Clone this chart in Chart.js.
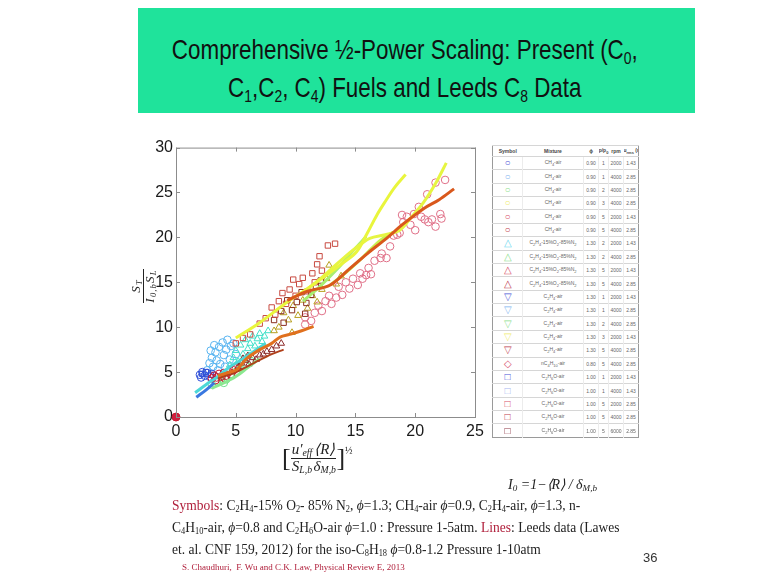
<!DOCTYPE html>
<html>
<head>
<meta charset="utf-8">
<script src="https://cdn.jsdelivr.net/npm/chart.js@4/dist/chart.umd.min.js"></script>
<style>
  body { margin: 0; background: #fff; }
  #slide { position: relative; width: 767px; height: 578px; overflow: hidden; background: #fff; }
  #titleBar {
    position: absolute; left: 138px; top: 8px; width: 557px; height: 105px;
    background: #1fe39b; color: #111;
    font-family: "Liberation Sans", sans-serif; font-size: 28px; line-height: 38px;
    padding-top: 23px; box-sizing: border-box; overflow: hidden;
  }
  #titleBar .inner { width: 667px; text-align: center; transform: scaleX(0.8); transform-origin: 0 0; white-space: nowrap; }
  #titleBar sub { font-size: 0.62em; vertical-align: -0.3em; line-height: 0; }
  #plot { position: absolute; left: 120px; top: 135px; }
  .math { font-family: "Liberation Serif", serif; font-style: italic; color: #222; position: absolute; }
  .frac { display: inline-block; vertical-align: middle; text-align: center; }
  .frac span { display: block; line-height: 1.05; }
  .frac .num { border-bottom: 1px solid #222; padding: 0 1px; }
  .math sub { font-size: 0.65em; vertical-align: -0.25em; line-height: 0; }
  #ytitle { left: 111px; top: 273px; font-size: 13px; letter-spacing: 1.2px; transform: rotate(-90deg); transform-origin: center; width: 64px; height: 26px; text-align: center; }
  #ytitle .frac span { line-height: 0.98; }
  #xtitle { left: 282px; top: 442px; font-size: 15px; white-space: nowrap; }
  #xtitle .br { font-style: normal; font-size: 26px; vertical-align: middle; }
  #xtitle .half { font-size: 10px; display: inline-block; vertical-align: 8px; font-style: normal; }
  #legendTbl {
    position: absolute; left: 492px; top: 145px; width: 146px; height: 293px;
    border-collapse: collapse; border: 1px solid #9a9a9a; font-family: "Liberation Sans", sans-serif;
    font-size: 5px; color: #666; table-layout: fixed;
  }
  #legendTbl td, #legendTbl th { border-top: 1px solid #d6d6d6; padding: 0; text-align: center; white-space: nowrap; overflow: hidden; }
  #legendTbl td + td { border-left: 1px solid #ececec; }
  #legendTbl th { font-weight: bold; color: #444; font-size: 5px; }
  #legendTbl .sym { font-size: 10px; line-height: 10px; }
  #legendTbl sub { font-size: 4px; }
  #eqI { left: 508px; top: 476px; font-size: 14px; white-space: nowrap; }
  #notes {
    position: absolute; left: 172px; top: 494px;
    font-family: "Liberation Serif", serif; font-size: 15px; line-height: 22px; color: #222; white-space: nowrap;
    transform: scaleX(0.9); transform-origin: 0 0;
  }
  #notes .hl { color: #b0203c; }
  #notes sub { font-size: 0.62em; vertical-align: -0.25em; line-height: 0; }
  #cite { position: absolute; left: 182px; top: 562px; font-family: "Liberation Serif", serif; font-size: 9px; color: #b0203c; white-space: nowrap; }
  #pageNo { position: absolute; left: 643px; top: 550px; font-family: "Liberation Sans", sans-serif; font-size: 13px; color: #333; }
</style>
</head>
<body>
<div id="slide">
  <div id="titleBar"><div class="inner">Comprehensive ½-Power Scaling: Present (C<sub>0</sub>,<br>C<sub>1</sub>,C<sub>2</sub>, C<sub>4</sub>) Fuels and Leeds C<sub>8</sub> Data</div></div>

  <canvas id="plot" width="370" height="330"></canvas>

  <div class="math" id="ytitle"><span class="frac"><span class="num">S<sub>T</sub></span><span>I<sub>0,b</sub>S<sub>L</sub></span></span></div>
  <div class="math" id="xtitle"><span class="br">[</span><span class="frac"><span class="num">u′<sub>eff</sub></span><span>S<sub>L,b</sub></span></span><span class="frac"><span class="num">⟨R⟩</span><span>δ<sub>M,b</sub></span></span><span class="br">]</span><span class="half">½</span></div>

  <table id="legendTbl"></table>

  <div class="math" id="eqI">I<sub>0</sub> =1−⟨R⟩ / δ<sub>M,b</sub></div>

  <div id="notes">
    <span class="hl">Symbols</span>: C<sub>2</sub>H<sub>4</sub>-15% O<sub>2</sub>- 85% N<sub>2</sub>, <i>ϕ</i>=1.3; CH<sub>4</sub>-air <i>ϕ</i>=0.9, C<sub>2</sub>H<sub>4</sub>-air, <i>ϕ</i>=1.3, n-<br>
    C<sub>4</sub>H<sub>10</sub>-air, <i>ϕ</i>=0.8 and C<sub>2</sub>H<sub>6</sub>O-air <i>ϕ</i>=1.0 : Pressure 1-5atm. <span class="hl">Lines</span>: Leeds data (Lawes<br>
    et. al. CNF 159, 2012) for the iso-C<sub>8</sub>H<sub>18</sub> <i>ϕ</i>=0.8-1.2 Pressure 1-10atm
  </div>
  <div id="cite">S. Chaudhuri,&nbsp; F. Wu and C.K. Law, Physical Review E, 2013</div>
  <div id="pageNo">36</div>
</div>

<script>
// tick labels
const xTicks = [0, 5, 10, 15, 20, 25];
const yTicks = [0, 5, 10, 15, 20, 25, 30];

// Leeds lines (iso-octane)
const leedsYellowA = [[5.0, 8.8], [7.0, 10.5], [9.0, 12.5], [11.0, 14.3], [12.6, 15.8], [14.0, 17.2], [15.1, 18.4], [16.0, 20.5], [16.8, 22.5], [17.5, 24.0], [18.3, 25.6], [19.2, 27.0]];
const leedsYellowB = [[11.0, 14.3], [11.8, 15.1], [13.0, 16.5], [14.0, 17.7], [15.0, 18.8], [16.2, 19.9], [17.5, 20.3], [18.7, 20.8], [19.7, 22.3], [20.7, 23.9], [21.7, 26.0], [22.6, 28.3]];
const leedsGreenA = [[10.6, 12.9], [12.0, 14.5], [13.5, 16.5], [14.8, 18.5], [15.9, 20.1]];
const leedsGreenB = [[12.9, 14.7], [14.3, 16.2], [15.7, 17.9], [17.1, 19.7], [18.2, 20.6]];
const leedsOrangeA = [[9.3, 13.0], [11.0, 14.0], [12.9, 14.7], [14.5, 16.5], [16.0, 18.2], [17.6, 19.9], [19.0, 21.5], [20.7, 23.2], [22.0, 24.2], [23.25, 25.4]];
const leedsOrangeB = [[3.5, 4.6], [4.5, 5.0], [5.1, 5.3], [5.9, 6.5], [7.0, 7.5], [8.0, 8.2], [8.7, 8.9], [9.5, 9.2], [10.5, 9.6], [11.5, 10.1]];
const leedsBrown = [[3.5, 4.3], [5.0, 5.0], [6.5, 6.0], [8.0, 7.0], [9.0, 7.5]];
const leedsCyan = [[1.6, 2.7], [2.5, 3.6], [3.5, 4.5], [4.5, 5.6], [5.5, 6.4], [6.5, 7.3], [7.5, 8.2]];
const leedsBlue = [[1.7, 2.2], [2.5, 3.0], [3.2, 3.8]];
const leedsLightGreen = [[3.0, 3.2], [4.0, 3.8], [5.0, 4.5], [6.0, 5.5], [7.0, 6.5]];

// measured symbols
const ch4BlueCircles = [[2.0, 4.7], [2.2, 5.0], [2.4, 4.6], [2.6, 4.9], [2.8, 4.5], [3.0, 4.8], [2.1, 4.4]];
const ch4LightBlueCircles = [[2.6, 5.2], [2.8, 6.0], [3.0, 6.6], [3.1, 5.6], [3.3, 7.2], [3.4, 6.3], [3.6, 7.8], [3.7, 5.9], [3.9, 8.3], [4.0, 6.9], [4.2, 7.5], [4.3, 8.6], [4.5, 6.4], [4.6, 7.9], [4.8, 8.2], [5.0, 7.0], [3.2, 8.0], [2.9, 7.4], [3.5, 5.2], [4.1, 5.6]];
const ch4GreenCircles = [[3.0, 3.6], [3.4, 4.0], [3.8, 4.3], [4.2, 4.2], [4.6, 4.8], [5.0, 5.0], [5.4, 5.5], [5.8, 5.9], [4.0, 3.8], [6.2, 6.3]];
const c2h4o2CyanTri = [[4.5, 5.8], [4.8, 6.6], [5.0, 7.4], [5.2, 6.2], [5.4, 8.0], [5.6, 7.0], [5.8, 8.6], [6.0, 7.6], [6.2, 8.2], [6.4, 9.0], [6.6, 7.9], [6.8, 8.7], [7.0, 9.3], [7.2, 8.4], [7.4, 9.0], [7.7, 9.6], [5.3, 5.6], [6.1, 6.8]];
const c2h6oBlueSquares = [[2.2, 4.8], [2.5, 5.0], [2.9, 4.7]];
const ch4RedCircles = [[3.0, 4.3], [3.2, 4.6], [3.4, 4.4], [3.6, 4.8], [3.8, 4.5], [4.0, 4.9], [4.2, 4.6], [4.4, 5.0], [4.6, 4.7], [4.8, 5.2], [5.0, 5.4], [3.3, 4.1], [4.1, 4.3]];
const c2h4DarkRedTri = [[5.2, 5.6], [5.5, 6.0], [5.8, 6.3], [6.1, 5.9], [6.4, 6.6], [6.7, 6.4], [7.0, 6.9], [7.3, 7.0], [7.6, 7.3], [8.0, 7.5], [8.4, 7.9], [8.8, 8.2], [6.0, 6.8], [5.6, 6.5]];
const c2h6oRedSquares = [[5.0, 8.2], [5.6, 8.8], [6.2, 9.2], [7.0, 10.4], [7.5, 11.0], [8.0, 12.2], [8.3, 11.4], [8.6, 12.9], [8.9, 13.8], [9.2, 12.6], [9.5, 14.2], [9.8, 15.3], [10.0, 13.5], [10.3, 14.8], [10.6, 15.5], [11.0, 14.0], [11.4, 16.0], [11.8, 17.0], [12.0, 17.9], [12.2, 16.3], [12.7, 19.1], [13.3, 19.3], [11.6, 15.0]];
const c2h6oDarkSquares = [[8.2, 10.8], [8.8, 11.8], [9.3, 13.0], [9.7, 11.9], [10.1, 12.8], [10.5, 13.9], [10.9, 12.7], [11.3, 13.6], [11.7, 14.6], [12.1, 15.2], [9.0, 10.5], [10.8, 11.5]];
const c2h4YellowTri = [[8.2, 9.6], [8.6, 10.0], [9.0, 11.6], [9.4, 10.8], [9.7, 9.4], [9.8, 12.4], [10.2, 11.3], [10.6, 13.0], [11.0, 12.1], [11.4, 13.5], [11.8, 12.8], [12.2, 14.2], [12.6, 15.4], [13.0, 16.3], [13.4, 14.8], [13.8, 15.7], [12.8, 16.9]];
const ch4PinkCircles = [[10.8, 10.3], [10.8, 11.1], [11.3, 10.7], [11.6, 11.6], [11.9, 12.4], [12.2, 11.8], [12.5, 12.9], [12.8, 13.5], [13.0, 12.6], [13.4, 13.3], [13.6, 14.5], [13.9, 13.6], [14.2, 15.0], [14.5, 14.3], [14.8, 15.4], [15.2, 14.7], [15.4, 16.0], [15.6, 15.4], [15.9, 15.8], [16.1, 16.6], [16.3, 15.9], [16.6, 17.4], [17.1, 17.7], [17.2, 18.2], [17.6, 17.7], [17.9, 19.0], [18.2, 20.2], [18.5, 20.3], [18.7, 20.5], [19.0, 21.7], [19.3, 22.3], [19.6, 21.4], [19.9, 22.6], [20.3, 23.4], [20.5, 22.3], [20.8, 22.0], [21.1, 21.7], [21.4, 22.0], [21.7, 21.2], [22.1, 22.6], [22.2, 22.1], [21.0, 24.8], [21.7, 26.1], [22.5, 26.4], [20.0, 20.8], [18.9, 22.5]];
const originPoint = [[0, 0]];

// legend table rows
const tblSymbols = ["○", "○", "○", "○", "○", "○", "△", "△", "△", "△", "▽", "▽", "▽", "▽", "▽", "◇", "□", "□", "□", "□", "□"];
const tblColors = ["#4a55d8", "#7fb6f0", "#8ee08e", "#f0ec70", "#d8506a", "#c04050", "#6fd8f0", "#8ee08e", "#d8506a", "#c04050", "#4a55d8", "#7fb6f0", "#8ee08e", "#f0ec70", "#c04050", "#d8506a", "#4a55d8", "#a8b8f0", "#d8506a", "#c04050", "#8a3040"];
const tblMixtures = ["CH<sub>4</sub>-air", "CH<sub>4</sub>-air", "CH<sub>4</sub>-air", "CH<sub>4</sub>-air", "CH<sub>4</sub>-air", "CH<sub>4</sub>-air",
  "C<sub>2</sub>H<sub>4</sub>-15%O<sub>2</sub>-85%N<sub>2</sub>", "C<sub>2</sub>H<sub>4</sub>-15%O<sub>2</sub>-85%N<sub>2</sub>", "C<sub>2</sub>H<sub>4</sub>-15%O<sub>2</sub>-85%N<sub>2</sub>", "C<sub>2</sub>H<sub>4</sub>-15%O<sub>2</sub>-85%N<sub>2</sub>",
  "C<sub>2</sub>H<sub>4</sub>-air", "C<sub>2</sub>H<sub>4</sub>-air", "C<sub>2</sub>H<sub>4</sub>-air", "C<sub>2</sub>H<sub>4</sub>-air", "C<sub>2</sub>H<sub>4</sub>-air",
  "nC<sub>4</sub>H<sub>10</sub>-air", "C<sub>2</sub>H<sub>6</sub>O-air", "C<sub>2</sub>H<sub>6</sub>O-air", "C<sub>2</sub>H<sub>6</sub>O-air", "C<sub>2</sub>H<sub>6</sub>O-air", "C<sub>2</sub>H<sub>6</sub>O-air"];
const tblPhi = ["0.90", "0.90", "0.90", "0.90", "0.90", "0.90", "1.30", "1.30", "1.30", "1.30", "1.30", "1.30", "1.30", "1.30", "1.30", "0.80", "1.00", "1.00", "1.00", "1.00", "1.00"];
const tblP = ["1", "1", "2", "3", "5", "5", "2", "2", "5", "5", "1", "1", "2", "3", "5", "5", "1", "1", "5", "5", "5"];
const tblRpm = ["2000", "4000", "4000", "4000", "2000", "4000", "2000", "4000", "2000", "4000", "2000", "4000", "4000", "2000", "4000", "4000", "2000", "4000", "2000", "4000", "6000"];
const tblUrms = ["1.43", "2.85", "2.85", "2.85", "1.43", "2.85", "1.43", "2.85", "1.43", "2.85", "1.43", "2.85", "2.85", "1.43", "2.85", "2.85", "1.43", "1.43", "2.85", "2.85", "2.85"];

// table
let html = '<colgroup><col style="width:30px"><col style="width:61px"><col style="width:15px"><col style="width:10px"><col style="width:15px"><col style="width:15px"></colgroup>';
html += '<tr><th>Symbol</th><th>Mixture</th><th>ϕ</th><th>p/p<sub>0</sub></th><th>rpm</th><th>u<sub>rms</sub> (m/s)</th></tr>';
tblMixtures.forEach((m, i) => {
    html += '<tr><td class="sym" style="color:' + tblColors[i] + '">' + tblSymbols[i] + '</td><td>' + m + '</td><td>' + tblPhi[i] +
        '</td><td>' + tblP[i] + '</td><td>' + tblRpm[i] + '</td><td>' + tblUrms[i] + '</td></tr>';
});
document.getElementById("legendTbl").innerHTML = html;

const toXY = arr => arr.map(p => ({ x: p[0], y: p[1] }));

function linea(dati, colore, spessore) {
    return {
        data: toXY(dati), showLine: true, borderColor: colore, borderWidth: spessore || 3,
        pointRadius: 0, tension: 0.35, fill: false
    };
}

function simboli(dati, colore, stile, raggio) {
    return {
        data: toXY(dati), showLine: false, pointStyle: stile, pointRadius: raggio || 3.8,
        borderColor: colore, backgroundColor: "rgba(0,0,0,0)", pointBorderWidth: 1
    };
}

//? box + ticks verso l'interno come matlab
const boxPlugin = {
    id: "boxPlugin",
    afterDraw(chart) {
        const { ctx, chartArea: a, scales } = chart;
        ctx.save();
        ctx.strokeStyle = "#8c8c8c";
        ctx.lineWidth = 1;
        ctx.strokeRect(a.left + 0.5, a.top + 0.5, a.right - a.left, a.bottom - a.top);
        ctx.beginPath();
        xTicks.forEach(v => {
            const px = Math.round(scales.x.getPixelForValue(v)) + 0.5;
            ctx.moveTo(px, a.bottom); ctx.lineTo(px, a.bottom - 4);
            ctx.moveTo(px, a.top); ctx.lineTo(px, a.top + 4);
        });
        yTicks.forEach(v => {
            const py = Math.round(scales.y.getPixelForValue(v)) + 0.5;
            ctx.moveTo(a.left, py); ctx.lineTo(a.left + 4, py);
            ctx.moveTo(a.right, py); ctx.lineTo(a.right - 4, py);
        });
        ctx.stroke();
        ctx.restore();
    }
};

const tickFont = { family: "Liberation Sans", size: 16 };

const datasets = [
    linea(leedsOrangeA, "#d9581c"),
    linea(leedsOrangeB, "#e0701e"),
    linea(leedsBrown, "#b0401a", 2),
    linea(leedsYellowA, "#e9f53c"),
    linea(leedsYellowB, "#e6f542"),
    linea(leedsGreenA, "#a8ee70"),
    linea(leedsGreenB, "#c8f050"),
    linea(leedsCyan, "#4cd8d8"),
    linea(leedsBlue, "#3a78e0"),
    linea(leedsLightGreen, "#8be890"),
    simboli(ch4RedCircles, "#c81830", "circle"),
    simboli(c2h4DarkRedTri, "#8c2a2a", "triangle"),
    simboli(c2h6oRedSquares, "#c84a40", "rect"),
    simboli(c2h6oDarkSquares, "#8a3020", "rect"),
    simboli(c2h4YellowTri, "#b8a020", "triangle"),
    simboli(ch4PinkCircles, "#e07088", "circle"),
    simboli(ch4BlueCircles, "#3050d8", "circle"),
    simboli(c2h6oBlueSquares, "#2a4ad0", "rect"),
    simboli(ch4GreenCircles, "#70e08a", "circle"),
    simboli(c2h4o2CyanTri, "#40e0c8", "triangle"),
    simboli(ch4LightBlueCircles, "#58b4f0", "circle"),
    Object.assign(simboli(originPoint, "#c81830", "circle", 4), { backgroundColor: "#d02040", clip: false })
];

const chart = new Chart(document.getElementById("plot").getContext("2d"), {
    type: "scatter",
    data: { datasets: datasets },
    options: {
        responsive: false,
        animation: false,
        layout: { padding: { top: 10, right: 15, left: 0, bottom: 0 } },
        plugins: { legend: { display: false }, tooltip: { enabled: false } },
        scales: {
            x: {
                type: "linear", min: 0, max: 25,
                afterBuildTicks: s => { s.ticks = xTicks.map(v => ({ value: v })); },
                afterFit: s => { s.height = 48; },
                grid: { display: false, drawTicks: false, tickLength: 0 }, border: { display: false },
                ticks: { font: tickFont, color: "#1a1a1a", padding: 5, maxRotation: 0 }
            },
            y: {
                type: "linear", min: 0, max: 30,
                afterBuildTicks: s => { s.ticks = yTicks.map(v => ({ value: v })); },
                afterFit: s => { s.width = 56; },
                grid: { display: false, drawTicks: false, tickLength: 0 }, border: { display: false },
                ticks: { font: tickFont, color: "#1a1a1a", padding: 3 }
            }
        }
    },
    plugins: [boxPlugin]
});
</script>
</body>
</html>
